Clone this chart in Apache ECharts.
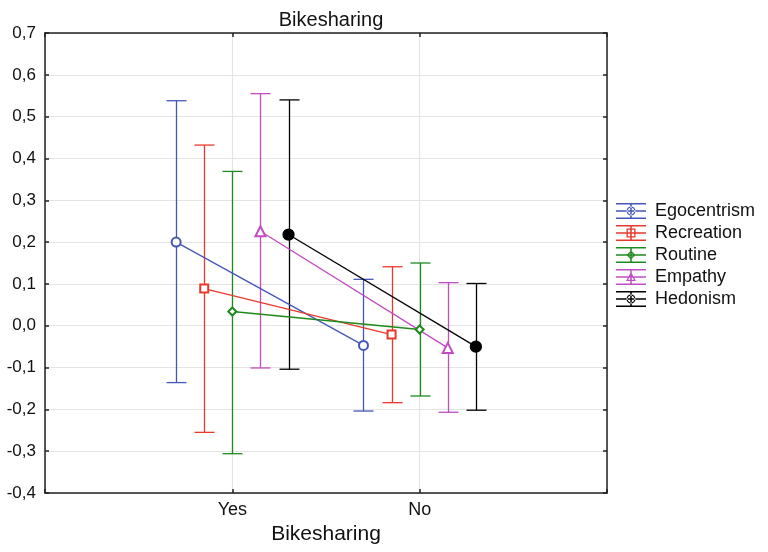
<!DOCTYPE html>
<html>
<head>
<meta charset="utf-8">
<script src="https://cdn.jsdelivr.net/npm/echarts@6/dist/echarts.min.js"></script>
<style>html,body{margin:0;padding:0;background:#fff}#c{width:768px;height:552px}</style>
</head>
<body>
<div id="c"></div>
<script>
const categories = ['Yes', 'No'];
const seriesNames = ['Egocentrism', 'Recreation', 'Routine', 'Empathy', 'Hedonism'];
const egocentrismMean = [0.200, -0.047];
const egocentrismUpper = [0.538, 0.111];
const egocentrismLower = [-0.136, -0.204];
const recreationMean = [0.089, -0.021];
const recreationUpper = [0.432, 0.141];
const recreationLower = [-0.255, -0.184];
const routineMean = [0.034, -0.009];
const routineUpper = [0.369, 0.150];
const routineLower = [-0.306, -0.168];
const empathyMean = [0.226, -0.053];
const empathyUpper = [0.555, 0.103];
const empathyLower = [-0.101, -0.207];
const hedonismMean = [0.218, -0.050];
const hedonismUpper = [0.540, 0.101];
const hedonismLower = [-0.104, -0.202];
const yTicks = [-0.4, -0.3, -0.2, -0.1, 0.0, 0.1, 0.2, 0.3, 0.4, 0.5, 0.6, 0.7];

const means = [egocentrismMean, recreationMean, routineMean, empathyMean, hedonismMean];
const uppers = [egocentrismUpper, recreationUpper, routineUpper, empathyUpper, hedonismUpper];
const lowers = [egocentrismLower, recreationLower, routineLower, empathyLower, hedonismLower];
const colors = ['#4457b8', '#e8392c', '#1e8a1e', '#c24cc2', '#000000'];
const symbols = ['emptyCircle', 'emptyRect', 'emptyDiamond', 'emptyTriangle', 'circle'];
const symbolSizes = [9, 8, 8, 10, 11];
const offsets = [-0.3, -0.15, 0, 0.15, 0.3];

const bars = 'M0,0h30v1.5h-30zM0,7.25h30v1.5h-30zM0,14.5h30v1.5h-30zM14.25,0h1.5v16h-1.5z';
const legendIcons = [
  'path://' + bars + 'M19.5,8A4.5,4.5 0 1,0 10.5,8A4.5,4.5 0 1,0 19.5,8ZM18.2,8A3.2,3.2 0 1,1 11.8,8A3.2,3.2 0 1,1 18.2,8Z',
  'path://' + bars + 'M10.5,3.5h9v9h-9zM11.8,4.8v6.4h6.4v-6.4z',
  'path://' + bars + 'M15,3.5l4.5,4.5l-4.5,4.5l-4.5,-4.5zM15,5.3l-2.7,2.7l2.7,2.7l2.7,-2.7z',
  'path://' + bars + 'M15,3l5,9h-10zM15,5.6l-3,5.2h6z',
  'path://' + bars + 'M19.5,8A4.5,4.5 0 1,0 10.5,8A4.5,4.5 0 1,0 19.5,8ZM18.2,8A3.2,3.2 0 1,1 11.8,8A3.2,3.2 0 1,1 18.2,8Z'
];

const series = [];
seriesNames.forEach((name, s) => {
  const errData = categories.map((c, i) => [i + 1 + offsets[s], lowers[s][i], uppers[s][i]]);
  const meanData = categories.map((c, i) => [i + 1 + offsets[s], means[s][i]]);
  const col = colors[s];
  series.push({
    name: name,
    type: 'custom',
    data: errData,
    z: 2,
    itemStyle: { color: col },
    renderItem: function (params, api) {
      const x = api.value(0), lo = api.value(1), hi = api.value(2);
      const pLo = api.coord([x, lo]);
      const pHi = api.coord([x, hi]);
      const cx = Math.round(pLo[0]) + 0.5;
      const cap = 10;
      const st = { stroke: col, lineWidth: 1.3 };
      return {
        type: 'group',
        children: [
          { type: 'line', shape: { x1: cx, y1: pLo[1], x2: cx, y2: pHi[1] }, style: st },
          { type: 'line', shape: { x1: cx - cap, y1: pHi[1], x2: cx + cap, y2: pHi[1] }, style: st },
          { type: 'line', shape: { x1: cx - cap, y1: pLo[1], x2: cx + cap, y2: pLo[1] }, style: st }
        ]
      };
    }
  });
  series.push({
    name: name,
    type: 'line',
    data: meanData,
    z: 3,
    symbol: symbols[s],
    symbolSize: symbolSizes[s],
    showSymbol: true,
    color: col,
    lineStyle: { color: col, width: 1.3 },
    itemStyle: { color: col, borderColor: col, borderWidth: 1.3 },
    emphasis: { disabled: true },
    animation: false
  });
});

const chart = echarts.init(document.getElementById('c'), null, { renderer: 'canvas' });
const fontFam = 'Liberation Sans, Arial, sans-serif';
chart.setOption({
  animation: false,
  backgroundColor: '#fff',
  title: {
    text: 'Bikesharing',
    left: 326, textAlign: 'center',
    top: 5,
    textStyle: { fontFamily: fontFam, fontSize: 20, fontWeight: 'normal', color: '#111' }
  },
  legend: {
    orient: 'vertical',
    left: 611,
    top: 197,
    itemWidth: 30,
    itemHeight: 16,
    itemGap: 4,
    itemStyle: { borderWidth: 0 },
    textStyle: { fontFamily: fontFam, fontSize: 18, color: '#111', padding: [0, 0, 0, 4] },
    data: seriesNames.map((n, s) => ({ name: n, icon: legendIcons[s], itemStyle: { color: colors[s], borderWidth: 0 } }))
  },
  grid: { left: 45, right: 161, top: 33, bottom: 59 },
  xAxis: [{
    type: 'value',
    min: 0, max: 3, interval: 1,
    name: 'Bikesharing',
    nameLocation: 'middle',
    nameGap: 31,
    nameTextStyle: { fontFamily: fontFam, fontSize: 21, color: '#111' },
    axisLine: { show: true, onZero: false, lineStyle: { color: '#222', width: 1.5 } },
    axisTick: { show: true, inside: true, length: 4, lineStyle: { color: '#222', width: 1.5 } },
    axisLabel: {
      fontFamily: fontFam, fontSize: 18, color: '#111', margin: 8,
      formatter: v => (v >= 1 && v <= categories.length && Number.isInteger(v)) ? categories[v - 1] : ''
    },
    splitLine: { show: true, lineStyle: { color: '#e4e4e4', width: 1.2 } }
  }, {
    type: 'value',
    position: 'top',
    min: 0, max: 3, interval: 1,
    axisLine: { show: true, onZero: false, lineStyle: { color: '#222', width: 1.5 } },
    axisTick: { show: true, inside: true, length: 4, lineStyle: { color: '#222', width: 1.5 } },
    axisLabel: { show: false },
    splitLine: { show: false }
  }],
  yAxis: [{
    type: 'value',
    min: yTicks[0], max: yTicks[yTicks.length - 1], interval: 0.1,
    axisLine: { show: true, onZero: false, lineStyle: { color: '#222', width: 1.5 } },
    axisTick: { show: true, inside: true, length: 4, lineStyle: { color: '#222', width: 1.5 } },
    axisLabel: {
      fontFamily: fontFam, fontSize: 17, color: '#111', margin: 9,
      formatter: v => (Math.abs(v) < 1e-9 ? '0,0' : v.toFixed(1).replace('.', ','))
    },
    splitLine: { show: true, lineStyle: { color: '#e4e4e4', width: 1.2 } }
  }, {
    type: 'value',
    position: 'right',
    min: yTicks[0], max: yTicks[yTicks.length - 1], interval: 0.1,
    axisLine: { show: true, onZero: false, lineStyle: { color: '#222', width: 1.5 } },
    axisTick: { show: true, inside: true, length: 4, lineStyle: { color: '#222', width: 1.5 } },
    axisLabel: { show: false },
    splitLine: { show: false }
  }],
  series: series
});
</script>
</body>
</html>
